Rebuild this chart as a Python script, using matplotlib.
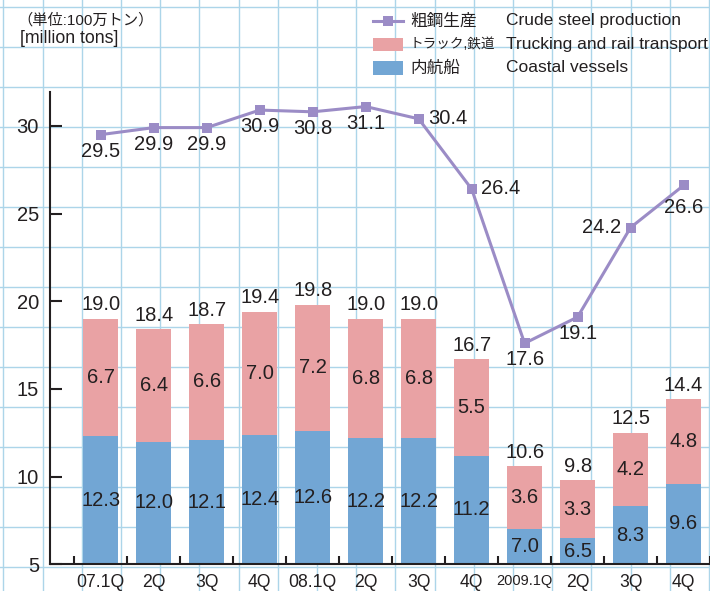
import matplotlib
matplotlib.use("Agg")
import matplotlib.pyplot as plt
from matplotlib.lines import Line2D
from matplotlib.patches import Rectangle
import numpy as np

plt.rcParams['font.family'] = ['Liberation Sans', 'Noto Sans CJK JP', 'DejaVu Sans']

# data
quarters = ['07.1Q', '2Q', '3Q', '4Q', '08.1Q', '2Q', '3Q', '4Q', '2009.1Q', '2Q', '3Q', '4Q']
coastal = [12.3, 12.0, 12.1, 12.4, 12.6, 12.2, 12.2, 11.2, 7.0, 6.5, 8.3, 9.6]
truck_rail = [6.7, 6.4, 6.6, 7.0, 7.2, 6.8, 6.8, 5.5, 3.6, 3.3, 4.2, 4.8]
totals = [19.0, 18.4, 18.7, 19.4, 19.8, 19.0, 19.0, 16.7, 10.6, 9.8, 12.5, 14.4]
steel = [29.5, 29.9, 29.9, 30.9, 30.8, 31.1, 30.4, 26.4, 17.6, 19.1, 24.2, 26.6]

# label placement for steel values: (dx, dy) in points, ha
steel_lbl = [(0, -12, 'center')] * 12
steel_lbl[6] = (7, 0, 'left')
steel_lbl[7] = (7, 0, 'left')
steel_lbl[10] = (-7, 0, 'right')
steel_lbl[11] = (0, -16, 'center')

C_BLUE = '#72a6d4'
C_PINK = '#e9a2a4'
C_PURPLE = '#9b8cc6'
C_GRID = '#acd5e9'
C_TEXT = '#231f20'

W, H = 710, 591
fig = plt.figure(figsize=(W / 100, H / 100), dpi=100)

# graph-paper background
bg = fig.add_axes([0, 0, 1, 1], zorder=-1)
bg.set_xlim(0, W)
bg.set_ylim(H, 0)
bg.axis('off')
for gx in np.arange(3.3, W, 39.2):
    bg.axvline(gx, color=C_GRID, lw=1.0)
for gy in np.arange(6.7, H, 40.0):
    bg.axhline(gy, color=C_GRID, lw=1.0)

# main axes
ax = fig.add_axes([50 / W, (H - 564.3) / H, 660 / W, (564.3 - 92) / H])
ax.set_facecolor('none')
x = np.arange(len(quarters))
ax.set_xlim(-0.96, 11.5)
ax.set_ylim(5, 31.93)

bw = 0.66
ax.bar(x, coastal, width=bw, color=C_BLUE, zorder=2)
ax.bar(x, truck_rail, width=bw, bottom=coastal, color=C_PINK, zorder=2)
ax.plot(x, steel, color=C_PURPLE, lw=2.2, marker='s', markersize=6.6,
        markeredgewidth=0, zorder=3)

fs = 14.5
for i in range(len(x)):
    ax.text(x[i], 5 + (coastal[i] - 5) / 2, f'{coastal[i]:.1f}', ha='center',
            va='center', fontsize=fs, color=C_TEXT, zorder=4)
    ax.text(x[i], coastal[i] + truck_rail[i] / 2, f'{truck_rail[i]:.1f}',
            ha='center', va='center', fontsize=fs, color=C_TEXT, zorder=4)
    ax.annotate(f'{totals[i]:.1f}', (x[i], totals[i]), xytext=(0, 10),
                textcoords='offset points', ha='center', va='center',
                fontsize=fs, color=C_TEXT, zorder=4)
    dx, dy, ha = steel_lbl[i]
    ax.annotate(f'{steel[i]:.1f}', (x[i], steel[i]), xytext=(dx, dy),
                textcoords='offset points', ha=ha, va='center',
                fontsize=fs, color=C_TEXT, zorder=4)

# axes styling
for s in ['top', 'right']:
    ax.spines[s].set_visible(False)
for s in ['left', 'bottom']:
    ax.spines[s].set_linewidth(1.5)
    ax.spines[s].set_color(C_TEXT)

ax.set_yticks([5, 10, 15, 20, 25, 30])
ax.tick_params(axis='y', direction='in', length=8.5, width=1.5, color=C_TEXT,
               labelsize=fs, labelcolor=C_TEXT, pad=8)
ax.set_xticks(np.arange(-0.5, 12, 1.0))
ax.set_xticklabels([])
ax.set_xticks(x, minor=True)
ax.set_xticklabels(quarters, minor=True)
ax.tick_params(axis='x', which='major', direction='in', length=5.5, width=1.5,
               color=C_TEXT)
ax.tick_params(axis='x', which='minor', length=0, labelsize=12.7,
               labelcolor=C_TEXT, pad=7)
for lbl in ax.get_xticklabels(minor=True):
    if lbl.get_text() == '2009.1Q':
        lbl.set_fontsize(10.5)

# unit note
fig.text(17 / W, 1 - 20.7 / H, '（単位:100万トン）', fontsize=11, color=C_TEXT,
         ha='left', va='center')
fig.text(20 / W, 1 - 38.3 / H, '[million tons]', fontsize=12.8, color=C_TEXT,
         ha='left', va='center')

# legend
rows = [20.7, 44.3, 68.0]
jp = ['粗鋼生産', 'トラック,鉄道', '内航船']
jp_fs = [12, 9.8, 12]
en = ['Crude steel production', 'Trucking and rail transport', 'Coastal vessels']
fig.add_artist(Line2D([373 / W, 403 / W], [1 - rows[0] / H] * 2, color=C_PURPLE,
                      lw=2.2, transform=fig.transFigure))
fig.add_artist(Line2D([388 / W], [1 - rows[0] / H], color=C_PURPLE, marker='s',
                      markersize=6.6, markeredgewidth=0, transform=fig.transFigure))
for r, c in zip(rows[1:], [C_PINK, C_BLUE]):
    fig.add_artist(Rectangle((373 / W, 1 - (r + 6.7) / H), 30 / W, 13.4 / H,
                             facecolor=c, edgecolor='none', transform=fig.transFigure))
for r, j, f, e in zip(rows, jp, jp_fs, en):
    fig.text(410 / W, 1 - r / H, j, fontsize=f, color=C_TEXT, ha='left', va='center')
    fig.text(506 / W, 1 - r / H, e, fontsize=12.5, color=C_TEXT, ha='left', va='center')

fig.savefig('out.png', dpi=100, facecolor='white')
